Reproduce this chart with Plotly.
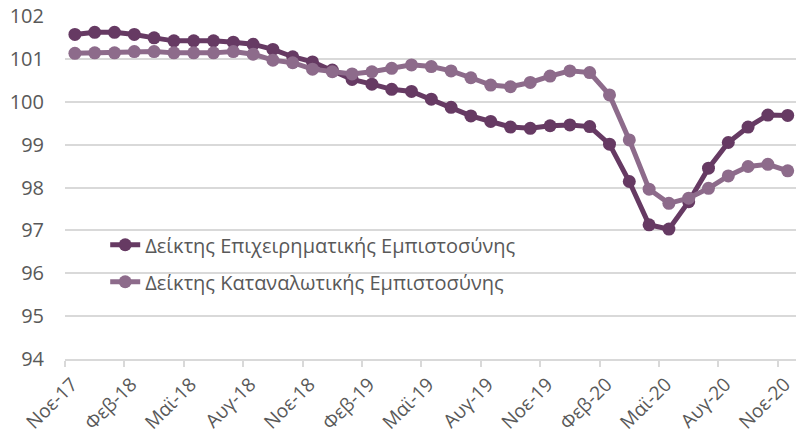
import plotly.graph_objects as go

months = ["Νοε-17","Δεκ-17","Ιαν-18","Φεβ-18","Μαρ-18","Απρ-18","Μαϊ-18","Ιουν-18","Ιουλ-18","Αυγ-18",
          "Σεπ-18","Οκτ-18","Νοε-18","Δεκ-18","Ιαν-19","Φεβ-19","Μαρ-19","Απρ-19","Μαϊ-19","Ιουν-19",
          "Ιουλ-19","Αυγ-19","Σεπ-19","Οκτ-19","Νοε-19","Δεκ-19","Ιαν-20","Φεβ-20","Μαρ-20","Απρ-20",
          "Μαϊ-20","Ιουν-20","Ιουλ-20","Αυγ-20","Σεπ-20","Οκτ-20","Νοε-20"]

business = [101.57,101.62,101.62,101.57,101.49,101.42,101.42,101.42,101.39,101.34,
            101.22,101.05,100.93,100.74,100.52,100.41,100.29,100.24,100.06,99.87,
            99.67,99.54,99.41,99.38,99.44,99.46,99.42,99.01,98.14,97.13,
            97.03,97.67,98.45,99.05,99.41,99.69,99.68]

consumer = [101.13,101.14,101.14,101.17,101.17,101.14,101.14,101.14,101.17,101.11,
            100.97,100.91,100.76,100.70,100.65,100.70,100.78,100.86,100.82,100.72,
            100.56,100.39,100.35,100.45,100.60,100.72,100.68,100.16,99.11,97.96,
            97.63,97.75,97.98,98.27,98.49,98.54,98.39]

tick_labels = ["Νοε-17","Φεβ-18","Μαϊ-18","Αυγ-18","Νοε-18","Φεβ-19","Μαϊ-19",
               "Αυγ-19","Νοε-19","Φεβ-20","Μαϊ-20","Αυγ-20","Νοε-20"]
y_ticks = [94,95,96,97,98,99,100,101,102]

idx = list(range(len(months)))
tick_pos = [months.index(t) for t in tick_labels]
label_pos = [p - 0.15 for p in tick_pos]
boundary_pos = [p - 0.5 for p in tick_pos]

dark = "#663a63"
light = "#8d6b8b"
font = "Open Sans"
txt = "#595959"

fig = go.Figure()
fig.add_trace(go.Scatter(x=idx, y=business, mode="lines+markers",
                         name="Δείκτης Επιχειρηματικής Εμπιστοσύνης",
                         line=dict(color=dark, width=5), marker=dict(size=13, color=dark),
                         legendgroup="a"))
fig.add_trace(go.Scatter(x=idx, y=consumer, mode="lines+markers",
                         name="Δείκτης Καταναλωτικής Εμπιστοσύνης",
                         line=dict(color=light, width=5), marker=dict(size=13, color=light),
                         legendgroup="b"))

fig.update_layout(
    width=796, height=441,
    margin=dict(l=65, r=0, t=16, b=82, autoexpand=False),
    paper_bgcolor="white", plot_bgcolor="white",
    font=dict(family=font, size=20, color=txt),
    legend=dict(x=0.055, y=0.39, xanchor="left", yanchor="top",
                bgcolor="rgba(0,0,0,0)", font=dict(size=20, color=txt),
                traceorder="grouped", tracegroupgap=8),
    xaxis=dict(range=[-0.5, 36.42], tickmode="array", tickvals=label_pos, ticktext=tick_labels,
               tickangle=-45, ticks="", showgrid=False, zeroline=False, automargin=False,
               showline=True, linecolor="#d9d9d9", linewidth=1.5,
               ticklabelstandoff=5, ticklabeloverflow="allow", tickfont=dict(size=19),
               minor=dict(tickmode="array", tickvals=boundary_pos, ticks="outside",
                          ticklen=6, tickcolor="#d9d9d9", tickwidth=1.5, showgrid=False)),
    yaxis=dict(range=[94, 102], tickvals=y_ticks, showgrid=True, gridcolor="#d9d9d9",
               gridwidth=1.5, zeroline=False, ticks="", ticklabelstandoff=20, automargin=False),
)

fig.write_html("out.html", config={"displayModeBar": False},
               post_script="document.body.style.margin='0';document.body.style.overflow='hidden';")
